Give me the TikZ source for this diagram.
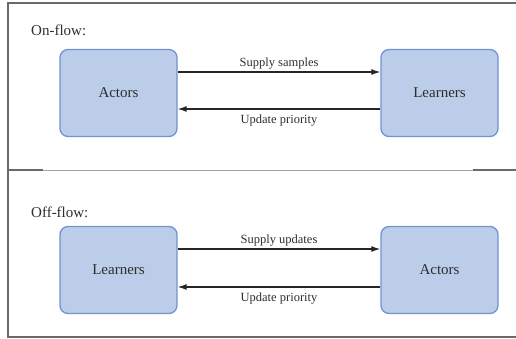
\documentclass[tikz,border=0pt]{standalone}
\usepackage{fontspec}
\setmainfont{Liberation Serif}
\usepackage{tikz}
\usetikzlibrary{arrows.meta,positioning}
\definecolor{boxfill}{HTML}{BBCDE9}
\definecolor{boxedge}{HTML}{7093D3}
\definecolor{framegray}{HTML}{6A6A6A}
\definecolor{textdark}{HTML}{2E2E2E}

\begin{document}
\begin{tikzpicture}[
  x=1pt,y=-1pt,
  agent/.style={draw=boxedge,fill=boxfill,line width=1.3pt,rounded corners=8pt,minimum width=117pt,minimum height=87pt,font=\fontsize{15}{18}\selectfont,text=textdark},
  flow/.style={-{Latex[length=9pt,width=6pt]},line width=1.2pt,draw=black!85},
  lbl/.style={font=\fontsize{12.5}{14}\selectfont,text=textdark,inner sep=2pt},
  head/.style={anchor=west,font=\fontsize{15}{18}\selectfont,text=textdark,inner sep=0pt}
]
\useasboundingbox (0,0) rectangle (516,338);
% frame
\draw[framegray,line width=1.4pt] (516,3) -- (8,3) -- (8,337) -- (516,337);
\draw[framegray!60,line width=0.8pt] (8,170) -- (516,170);
\draw[framegray,line width=2pt] (8,170) -- (43,170) (473,170) -- (516,170);
% on-flow
\node[head] (hon) at (31,30) {On-flow:};
\node[agent] (act1) at (118.5,93) {Actors};
\node[agent] (lrn1) at (439.5,93) {Learners};
\draw[flow] ([yshift=21pt]act1.east) -- node[lbl,above]{Supply samples} ([yshift=21pt]lrn1.west);
\draw[flow] ([yshift=-16pt]lrn1.west) -- node[lbl,below=3pt]{Update priority} ([yshift=-16pt]act1.east);
% off-flow
\node[head] (hoff) at (31,212) {Off-flow:};
\node[agent] (lrn2) at (118.5,270) {Learners};
\node[agent] (act2) at (439.5,270) {Actors};
\draw[flow] ([yshift=21pt]lrn2.east) -- node[lbl,above]{Supply updates} ([yshift=21pt]act2.west);
\draw[flow] ([yshift=-17pt]act2.west) -- node[lbl,below=3pt]{Update priority} ([yshift=-17pt]lrn2.east);
\end{tikzpicture}
\end{document}
